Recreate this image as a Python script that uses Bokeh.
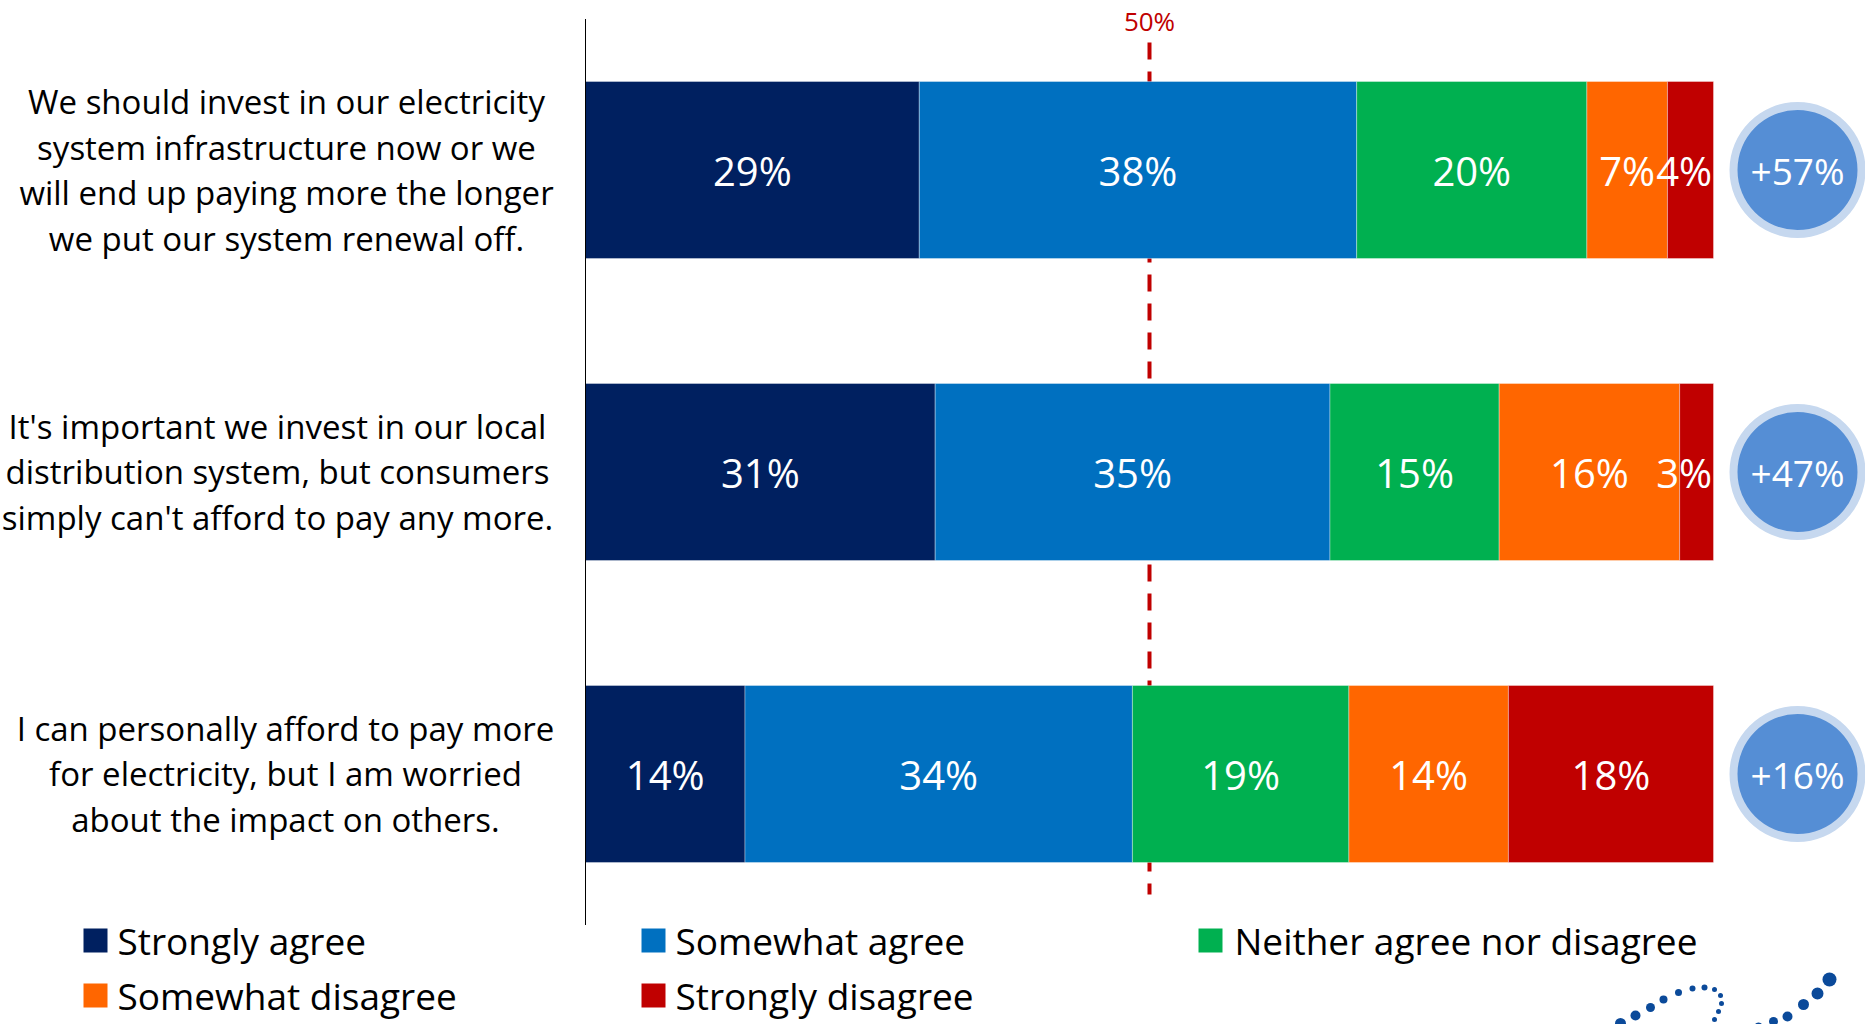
from bokeh.plotting import figure
from bokeh.models import Range1d, ColumnDataSource
from bokeh.core.properties import value
from bokeh.embed import file_html
from bokeh.resources import INLINE

# ---------------- data ----------------
STATEMENTS = [
    "We should invest in our electricity\nsystem infrastructure now or we\nwill end up paying more the longer\nwe put our system renewal off.",
    "It's important we invest in our local\ndistribution system, but consumers\nsimply can't afford to pay any more.",
    "I can personally afford to pay more\nfor electricity, but I am worried\nabout the impact on others.",
]
RESPONSES = ["Strongly agree", "Somewhat agree", "Neither agree nor disagree",
             "Somewhat disagree", "Strongly disagree"]
COLORS = ["#002060", "#0070C0", "#00B050", "#FF6600", "#C00000"]

strongly_agree = [29, 31, 14]
somewhat_agree = [38, 35, 34]
neither = [20, 15, 19]
somewhat_disagree = [7, 16, 14]
strongly_disagree = [4, 3, 18]
NET = [57, 47, 16]
MIDPOINT = 50

SERIES = [strongly_agree, somewhat_agree, neither, somewhat_disagree, strongly_disagree]

# ---------------- layout (page pixels) ----------------
W, H = 1865, 1024
AX_PX, END_PX = 585.0, 1713.0          # pixel of 0% and 100%
SX = (END_PX - AX_PX) / 100.0
ROW0_PX, ROW_STEP = 169.5, 302.0
LABEL_X_PX = [286, 277, 285]           # centre of each statement's text box


def X(px):
    return (px - AX_PX) / SX


def Y(py):
    return -(py - ROW0_PX) / ROW_STEP


FONT = "Open Sans"

p = figure(width=W, height=H, output_backend="svg", toolbar_location=None,
           x_range=Range1d(X(0), X(W)), y_range=Range1d(Y(H), Y(0)),
           x_axis_location=None, y_axis_location=None,
           min_border=0, min_border_left=0, min_border_right=0,
           min_border_top=0, min_border_bottom=0)
p.outline_line_color = None
p.xgrid.visible = False
p.ygrid.visible = False
p.background_fill_color = "white"
p.border_fill_color = "white"

rows_y = [-i for i in range(len(STATEMENTS))]
BAR_H = 177.0 / ROW_STEP

# 50% dashed reference line (behind bars)
p.segment(x0=[MIDPOINT], y0=[Y(42)], x1=[MIDPOINT], y1=[Y(894)],
          line_color="#C00000", line_width=4, line_dash="17 12")
p.text(x=[MIDPOINT], y=[Y(20)], text=[f"{MIDPOINT}%"], text_align="center",
       text_baseline="middle", text_font=value(FONT), text_font_size="26px",
       text_color="#C00000")

# stacked, normalised bars
totals = [sum(s[i] for s in SERIES) for i in range(len(STATEMENTS))]
LABEL_HALF = 2.6   # keep a value label inside its bar end
lefts = [0.0] * len(STATEMENTS)
for k, s in enumerate(SERIES):
    widths = [s[i] / totals[i] * 100.0 for i in range(len(STATEMENTS))]
    rights = [lefts[i] + widths[i] for i in range(len(STATEMENTS))]
    mids = [min((l + r) / 2, r - LABEL_HALF) if r >= 99.9 else (l + r) / 2
            for l, r in zip(lefts, rights)]
    src = ColumnDataSource(dict(y=rows_y, left=lefts, right=rights, mid=mids,
                                lab=[f"{v}%" for v in s]))
    p.hbar(y="y", left="left", right="right", height=BAR_H, source=src,
           fill_color=COLORS[k], line_color="white", line_alpha=0.35, line_width=1)
    p.text(x="mid", y="y", text="lab", source=src, text_align="center",
           text_baseline="middle", text_font=value(FONT), text_font_size="40px",
           text_color="white")
    lefts = rights

# vertical axis line
p.segment(x0=[0], y0=[rows_y[0] + 0.5], x1=[0], y1=[rows_y[-1] - 0.5],
          line_color="black", line_width=1)

# statement labels
p.text(x=[X(v) for v in LABEL_X_PX], y=rows_y, text=STATEMENTS,
       text_align="center", text_baseline="middle", text_font=value(FONT),
       text_font_size="33px", text_line_height=1.02, text_color="black")

# net circles
cx = [X(1797)] * len(NET)
p.scatter(x=cx, y=rows_y, marker="circle", size=136, fill_color="#C6D8EF",
          line_color=None)
p.scatter(x=cx, y=rows_y, marker="circle", size=120, fill_color="#558ED5",
          line_color=None)
p.text(x=cx, y=rows_y, text=[f"+{v}%" for v in NET], text_align="center",
       text_baseline="middle", text_font=value(FONT), text_font_size="37px",
       text_color="white")

# legend (manual, 3 columns x 2 rows)
COL_SQ = [95, 653, 1210]
COL_TX = [117, 675, 1234]
ROW_LG = [940, 995]
for k, name in enumerate(RESPONSES):
    r, c = divmod(k, 3)
    p.scatter(x=[X(COL_SQ[c])], y=[Y(ROW_LG[r])], marker="square", size=24,
              fill_color=COLORS[k], line_color=None)
    p.text(x=[X(COL_TX[c])], y=[Y(ROW_LG[r])], text=[name], text_align="left",
           text_baseline="middle", text_font=value(FONT), text_font_size="37px",
           text_color="black")

# decorative corner logo (dotted swoosh, partly off-page)
LOGO_PX = [(1620, 1023, 11), (1635, 1015, 10), (1650, 1007, 9), (1663, 999, 8),
           (1678, 992, 7), (1692, 988, 6), (1704, 987, 6), (1714, 989, 5),
           (1720, 995, 5), (1721, 1003, 5), (1718, 1011, 5), (1714, 1019, 5),
           (1758, 1026, 8), (1773, 1021, 9), (1787, 1016, 10), (1803, 1004, 11),
           (1817, 993, 12), (1829, 979, 14)]
p.scatter(x=[X(a) for a, b, c in LOGO_PX], y=[Y(b) for a, b, c in LOGO_PX],
          size=[c for a, b, c in LOGO_PX], marker="circle",
          fill_color="#0B4A9A", line_color=None)

open("out.html", "w").write(file_html(p, INLINE))
